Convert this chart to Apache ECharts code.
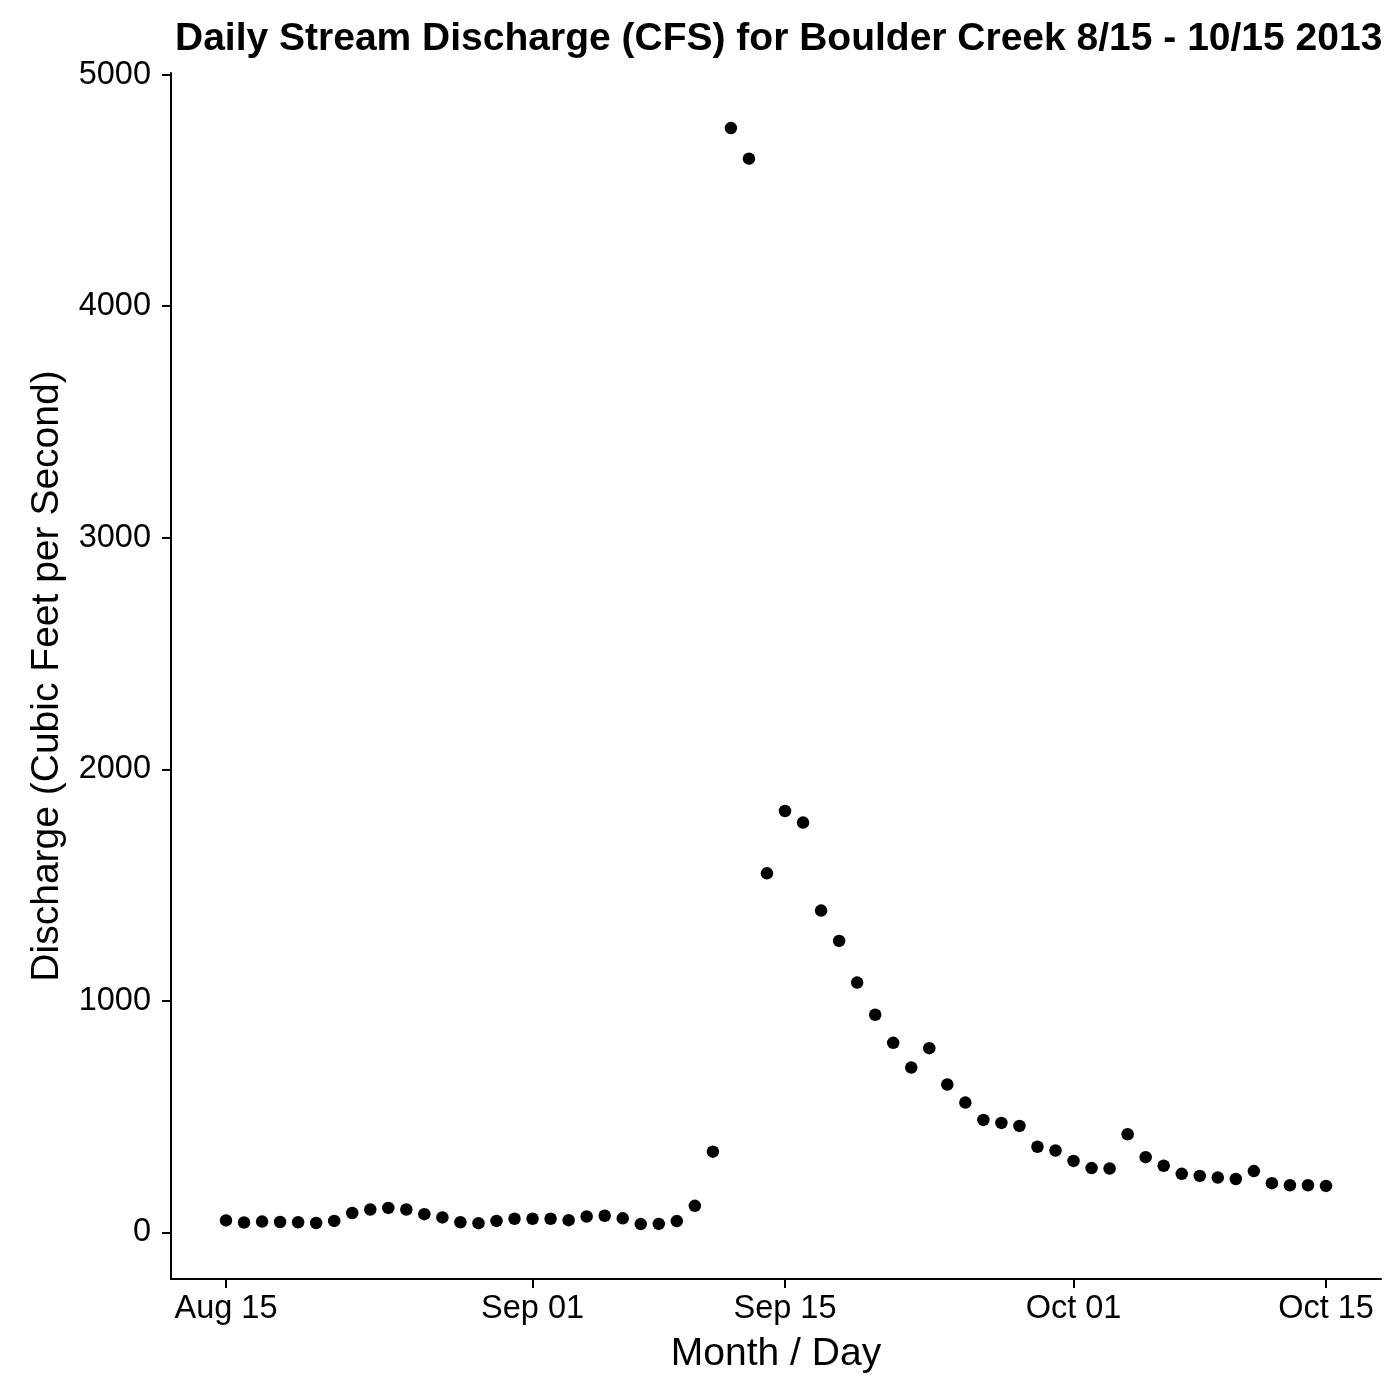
<!DOCTYPE html>
<html>
<head>
    <meta charset="UTF-8">
    <title>Boulder Creek discharge</title>
    <style>
        html, body {
            margin: 0;
            padding: 0;
            background: #fff;
        }
        #chart {
            width: 1400px;
            height: 1400px;
        }
    </style>
    <script src="https://cdn.jsdelivr.net/npm/echarts@6/dist/echarts.min.js"></script>
</head>
<body>
<div id="chart"></div>
<script type="text/javascript">
    // one value per day, Aug 15 to Oct 15 2013
    var discharge = [
        52, 43, 47, 45, 44, 41, 50, 84, 99, 106, 99, 79, 65, 44, 40, 50, 59,          // Aug 15 - 31
        59, 59, 53, 69, 72, 61, 36, 37, 49, 115, 349, 4769, 4637, 1551, 1820,         // Sep 01 - 15
        1770, 1390, 1259, 1079, 940, 819, 712, 796, 639, 561, 486, 473, 460, 370, 354, // Sep 16 - 30
        309, 278, 276, 424, 325, 288, 253, 244, 237, 231, 265, 213, 204, 204, 201     // Oct 01 - 15
    ];
    // x ticks: days since Aug 15
    var tickDays = [0, 17, 31, 47, 61];
    var tickLabels = ['Aug 15', 'Sep 01', 'Sep 15', 'Oct 01', 'Oct 15'];
    var yTicks = [0, 1000, 2000, 3000, 4000, 5000];

    var points = [];
    for (var i = 0; i < discharge.length; i++) {
        points.push([i, discharge[i]]);
    }

    var font = 'Liberation Sans, Arial, Helvetica, sans-serif';
    var myChart = echarts.init(document.getElementById('chart'));

    var option = {
        animation: false,
        backgroundColor: '#fff',
        title: {
            text: 'Daily Stream Discharge (CFS) for Boulder Creek 8/15 - 10/15 2013',
            left: 170,
            top: 15,
            textStyle: {
                fontFamily: font,
                fontWeight: 'bold',
                fontSize: 39,
                color: '#000'
            }
        },
        grid: {
            left: 171,
            right: 19,
            top: 73,
            bottom: 121
        },
        xAxis: {
            type: 'value',
            min: -3.05,
            max: 64.05,
            name: 'Month / Day',
            nameLocation: 'middle',
            nameGap: 56,
            nameTextStyle: {fontFamily: font, fontSize: 39, color: '#000'},
            splitLine: {show: false},
            axisLine: {onZero: false, lineStyle: {color: '#000', width: 2}},
            axisTick: {
                customValues: tickDays,
                length: 9,
                lineStyle: {color: '#000', width: 2}
            },
            axisLabel: {
                customValues: tickDays,
                margin: 14,
                fontFamily: font,
                fontSize: 32.5,
                color: '#000',
                formatter: function (val) {
                    var k = tickDays.indexOf(Math.round(val));
                    return k >= 0 ? tickLabels[k] : '';
                }
            }
        },
        yAxis: {
            type: 'value',
            min: -201,
            max: 5007,
            name: 'Discharge (Cubic Feet per Second)',
            nameLocation: 'middle',
            nameGap: 104,
            nameTextStyle: {fontFamily: font, fontSize: 39, color: '#000'},
            splitLine: {show: false},
            axisLine: {show: true, onZero: false, lineStyle: {color: '#000', width: 2}},
            axisTick: {
                show: true,
                customValues: yTicks,
                length: 9,
                lineStyle: {color: '#000', width: 2}
            },
            axisLabel: {
                customValues: yTicks,
                margin: 20,
                fontFamily: font,
                fontSize: 32.5,
                color: '#000',
                formatter: function (val) {
                    return String(val);
                }
            }
        },
        series: [{
            name: 'discharge',
            type: 'scatter',
            data: points,
            symbol: 'circle',
            symbolSize: 12.5,
            itemStyle: {color: '#000', opacity: 1}
        }]
    };
    myChart.setOption(option);
</script>
</body>
</html>
